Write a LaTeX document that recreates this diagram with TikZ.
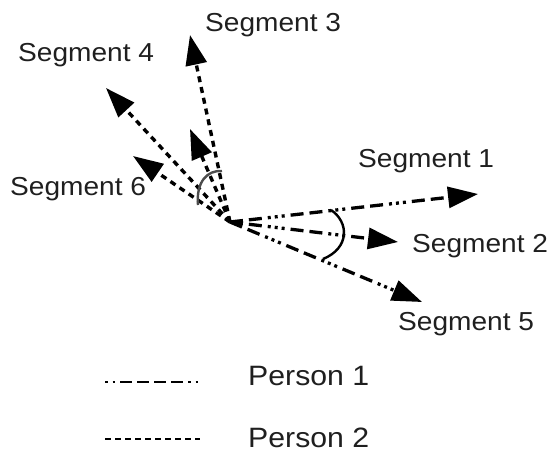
\documentclass[tikz,border=0pt]{standalone}
\usepackage{fontspec}
\setmainfont{Liberation Sans}[FakeStretch=1.08]
\usetikzlibrary{arrows.meta}
\begin{document}
\begin{tikzpicture}[x=1pt,y=-1pt,
  tip/.style={-{Triangle[length=30pt 0,width=21pt 0]}},
  personone/.style={line width=3.3pt,dash pattern=on 13pt off 6pt on 13pt off 6pt on 3pt off 4pt on 3pt off 4pt on 3pt off 6pt},
  persontwo/.style={line width=3.4pt,dash pattern=on 6pt off 5pt},
  seglabel/.style={anchor=base west,inner sep=0pt,font=\fontsize{26}{28}\selectfont,text=black!88},
  legendlabel/.style={anchor=base west,inner sep=0pt,font=\fontsize{28}{30}\selectfont,text=black!88},
  anglearc/.style={line width=2.4pt}]
\useasboundingbox (0,0) rectangle (553,457);

% common start point and arrow tips
\coordinate (O) at (230,222);
\coordinate (t1) at (478,194);
\coordinate (t2) at (398,242);
\coordinate (t5) at (422,302);
\coordinate (t3) at (190,35);
\coordinate (t4) at (106,88);
\coordinate (t6) at (133,156);
\coordinate (t7) at (190,129);

% Person 1 rays
\draw[personone,tip] (O) -- (t1);
\draw[personone,tip] (O) -- (t2);
\draw[personone,tip] (O) -- (t5);

% Person 2 rays
\draw[persontwo,tip] (O) -- (t3);
\draw[persontwo,tip] (O) -- (t4);
\draw[persontwo,tip] (O) -- (t6);
\draw[persontwo,tip] (O) -- (t7);

% angle marks
\coordinate (a1) at (198,205);
\coordinate (a2) at (222,171);
\draw[anglearc,black!70] (a1) .. controls (196,182) and (207,170) .. (a2);
\coordinate (b1) at (331,210);
\coordinate (b2) at (323,259);
\draw[anglearc] (b1) .. controls (349,222) and (350,248) .. (b2);

% labels
\node[seglabel] (s3) at (205,32) {Segment 3};
\node[seglabel] (s4) at (18,62) {Segment 4};
\node[seglabel] (s1) at (358,167) {Segment 1};
\node[seglabel] (s2) at (412,252) {Segment 2};
\node[seglabel] (s5) at (398,330) {Segment 5};
\node[seglabel] (s6) at (10,195) {Segment 6};

% legend
\coordinate (l1a) at (105,382);
\coordinate (l1b) at (199,382);
\draw[line width=2.6pt,dash pattern=on 2.5pt off 5pt on 2.5pt off 5pt on 12pt off 5pt on 12pt off 5pt on 12pt off 5pt on 12pt off 5pt on 2.5pt off 5pt on 2.5pt off 5pt] (l1a) -- (l1b);
\coordinate (l2a) at (105,439);
\coordinate (l2b) at (200,439);
\draw[line width=2.6pt,dash pattern=on 6pt off 4pt] (l2a) -- (l2b);
\node[legendlabel] (p1) at (248,385) {Person 1};
\node[legendlabel] (p2) at (248,447) {Person 2};
\end{tikzpicture}
\end{document}
